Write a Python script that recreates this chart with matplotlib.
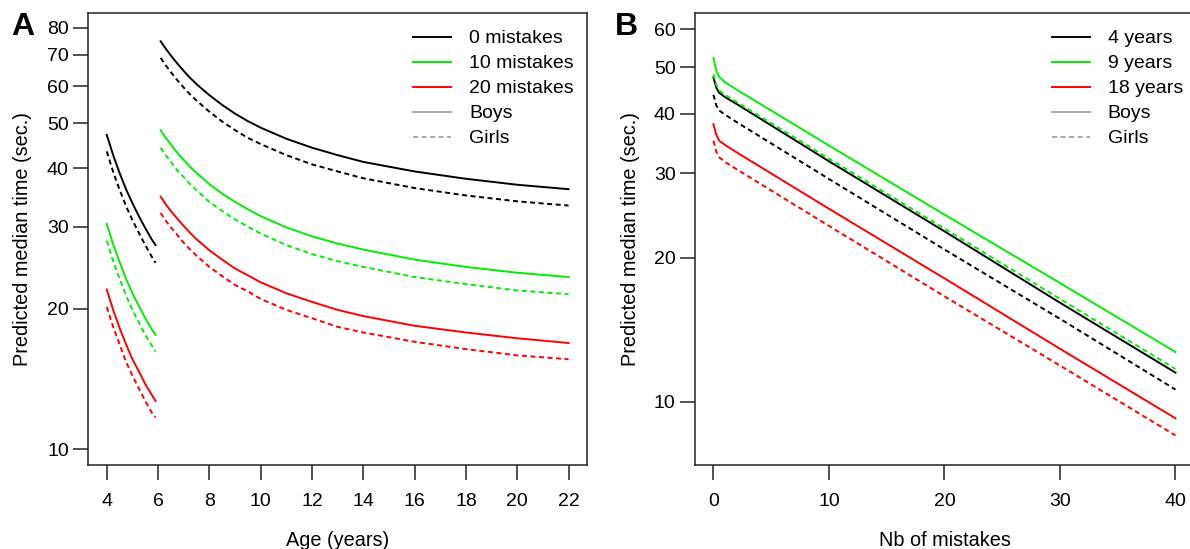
import matplotlib
matplotlib.use("Agg")
import matplotlib.pyplot as plt
from matplotlib.lines import Line2D
from matplotlib.ticker import NullLocator

plt.rcParams["font.family"] = ["Liberation Sans", "DejaVu Sans"]

# panel A: predicted median time vs age, split at 6 years
age_early = [4.0, 4.25, 4.5, 4.75, 5.0, 5.25, 5.5, 5.75, 5.9]
age_late = [6.1, 6.3, 6.5, 6.75, 7, 7.25, 7.5, 8, 8.5, 9, 9.5, 10, 11, 12, 13, 14, 16, 18, 20, 22]

boys_0_early = [47.2, 42.7, 39.1, 36.1, 33.7, 31.6, 29.8, 28.2, 27.4]
girls_0_early = [43.5, 39.3, 36.0, 33.2, 31.0, 29.1, 27.4, 25.9, 25.1]
boys_10_early = [30.4, 27.5, 25.2, 23.2, 21.6, 20.3, 19.1, 18.1, 17.6]
girls_10_early = [28.0, 25.3, 23.2, 21.4, 19.9, 18.7, 17.6, 16.7, 16.2]
boys_20_early = [22.0, 19.9, 18.2, 16.8, 15.6, 14.7, 13.8, 13.1, 12.7]
girls_20_early = [20.2, 18.3, 16.8, 15.4, 14.4, 13.5, 12.7, 12.0, 11.7]

boys_0_late = [74.9, 72.2, 69.8, 67.1, 64.7, 62.5, 60.6, 57.4, 54.7, 52.4, 50.5, 48.9,
               46.3, 44.3, 42.7, 41.3, 39.4, 38.0, 36.9, 36.1]
girls_0_late = [69.0, 66.5, 64.3, 61.8, 59.6, 57.6, 55.9, 52.9, 50.4, 48.3, 46.5, 45.1,
                42.7, 40.8, 39.4, 38.1, 36.3, 35.0, 34.0, 33.3]
boys_10_late = [48.3, 46.5, 45.0, 43.2, 41.7, 40.3, 39.1, 37.0, 35.3, 33.9, 32.7, 31.6,
                29.9, 28.6, 27.6, 26.8, 25.5, 24.6, 23.9, 23.4]
girls_10_late = [44.3, 42.7, 41.3, 39.6, 38.3, 37.0, 35.9, 33.9, 32.4, 31.1, 30.0, 29.0,
                 27.4, 26.2, 25.3, 24.6, 23.4, 22.6, 21.9, 21.5]
boys_20_late = [34.8, 33.5, 32.4, 31.2, 30.1, 29.1, 28.2, 26.7, 25.5, 24.4, 23.6, 22.8,
                21.6, 20.7, 19.9, 19.3, 18.4, 17.8, 17.3, 16.9]
girls_20_late = [32.1, 30.9, 29.9, 28.8, 27.7, 26.8, 26.0, 24.6, 23.5, 22.5, 21.8, 21.0,
                 19.9, 19.1, 18.3, 17.8, 17.0, 16.4, 15.9, 15.6]

age_ticks = [4, 6, 8, 10, 12, 14, 16, 18, 20, 22]
age_yticks = [10, 20, 30, 40, 50, 60, 70, 80]
age_legend = ["0 mistakes", "10 mistakes", "20 mistakes", "Boys", "Girls"]

# panel B: predicted median time vs number of mistakes
mistakes = [0, 0.25, 0.5, 1, 2, 10, 20, 30, 40]
boys_4y = [47.6, 45.3, 44.2, 43.3, 41.9, 31.8, 22.7, 16.1, 11.5]
girls_4y = [43.8, 41.6, 40.6, 39.8, 38.4, 29.2, 20.8, 14.9, 10.6]
boys_9y = [52.3, 49.2, 47.7, 46.5, 44.9, 34.3, 24.6, 17.7, 12.7]
girls_9y = [48.3, 45.9, 44.7, 43.8, 42.3, 32.2, 23.0, 16.4, 11.7]
boys_18y = [38.0, 36.1, 35.1, 34.4, 33.2, 25.3, 18.1, 12.9, 9.23]
girls_18y = [35.1, 33.3, 32.4, 31.7, 30.6, 23.3, 16.6, 11.9, 8.50]

mistake_ticks = [0, 10, 20, 30, 40]
mistake_yticks = [10, 20, 30, 40, 50, 60]
mistake_legend = ["4 years", "9 years", "18 years", "Boys", "Girls"]

colors = ["black", "#00ee00", "#ff0000"]
LW = 1.4
DASH = (2.6, 1.8)


def style_axis(ax, xticks, yticks):
    ax.set_yscale("log")
    ax.set_xticks(xticks)
    ax.set_xticklabels([str(t) for t in xticks])
    ax.set_yticks(yticks)
    ax.set_yticklabels([str(t) for t in yticks])
    ax.yaxis.set_minor_locator(NullLocator())
    ax.tick_params(axis="both", direction="out", length=10.5, width=1.1,
                   labelsize=14, color="#222222")
    ax.tick_params(axis="x", pad=10)
    ax.tick_params(axis="y", pad=3.5)
    for sp in ax.spines.values():
        sp.set_linewidth(1.1)
        sp.set_color("#222222")


def add_legend(ax, labels, x, y):
    handles = [Line2D([], [], color=c, lw=LW) for c in colors]
    handles.append(Line2D([], [], color="#aaaaaa", lw=LW))
    handles.append(Line2D([], [], color="#aaaaaa", lw=LW, dashes=DASH))
    ax.legend(handles, labels, loc="upper left", bbox_to_anchor=(x, y),
              frameon=False, fontsize=14, handlelength=1.95,
              handletextpad=0.92, labelspacing=0.38, borderpad=0,
              borderaxespad=0)


def plot_age(ax):
    boys_early = [boys_0_early, boys_10_early, boys_20_early]
    girls_early = [girls_0_early, girls_10_early, girls_20_early]
    boys_late = [boys_0_late, boys_10_late, boys_20_late]
    girls_late = [girls_0_late, girls_10_late, girls_20_late]
    for i, c in enumerate(colors):
        ax.plot(age_early, boys_early[i], "-", color=c, lw=LW)
        ax.plot(age_early, girls_early[i], color=c, lw=LW, dashes=DASH)
        ax.plot(age_late, boys_late[i], "-", color=c, lw=LW)
        ax.plot(age_late, girls_late[i], color=c, lw=LW, dashes=DASH)
    ax.set_xlim(3.28, 22.72)
    ax.set_ylim(9.28, 86.1)
    style_axis(ax, age_ticks, age_yticks)
    ax.set_xlabel("Age (years)", fontsize=14.3)
    ax.xaxis.set_label_coords(0.5, -0.148)
    ax.set_ylabel("Predicted median time (sec.)", fontsize=14.3)
    ax.yaxis.set_label_coords(-0.113, 0.5)
    add_legend(ax, age_legend, 0.652, 0.963)


def plot_mistakes(ax):
    boys = [boys_4y, boys_9y, boys_18y]
    girls = [girls_4y, girls_9y, girls_18y]
    for i, c in enumerate(colors):
        ax.plot(mistakes, boys[i], "-", color=c, lw=LW)
        ax.plot(mistakes, girls[i], color=c, lw=LW, dashes=DASH)
    ax.set_xlim(-1.6, 41.6)
    ax.set_ylim(7.39, 64.9)
    style_axis(ax, mistake_ticks, mistake_yticks)
    ax.set_xlabel("Nb of mistakes", fontsize=14.3)
    ax.xaxis.set_label_coords(0.5, -0.148)
    ax.set_ylabel("Predicted median time (sec.)", fontsize=14.3)
    ax.yaxis.set_label_coords(-0.110, 0.5)
    add_legend(ax, mistake_legend, 0.715, 0.963)


def make_plots():
    fig = plt.figure(figsize=(11.9, 5.49), dpi=100)
    ax_a = fig.add_axes([0.0742, 0.1539, 0.4191, 0.8224])
    ax_b = fig.add_axes([0.584, 0.1539, 0.4193, 0.8224])
    plot_age(ax_a)
    plot_mistakes(ax_b)
    fig.text(22.5 / 1190, 1 - 27 / 549, "A", fontsize=23, fontweight="bold",
             ha="center", va="center")
    fig.text(626 / 1190, 1 - 27 / 549, "B", fontsize=23, fontweight="bold",
             ha="center", va="center")
    fig.savefig("out.png", dpi=100)


if __name__ == "__main__":
    make_plots()
